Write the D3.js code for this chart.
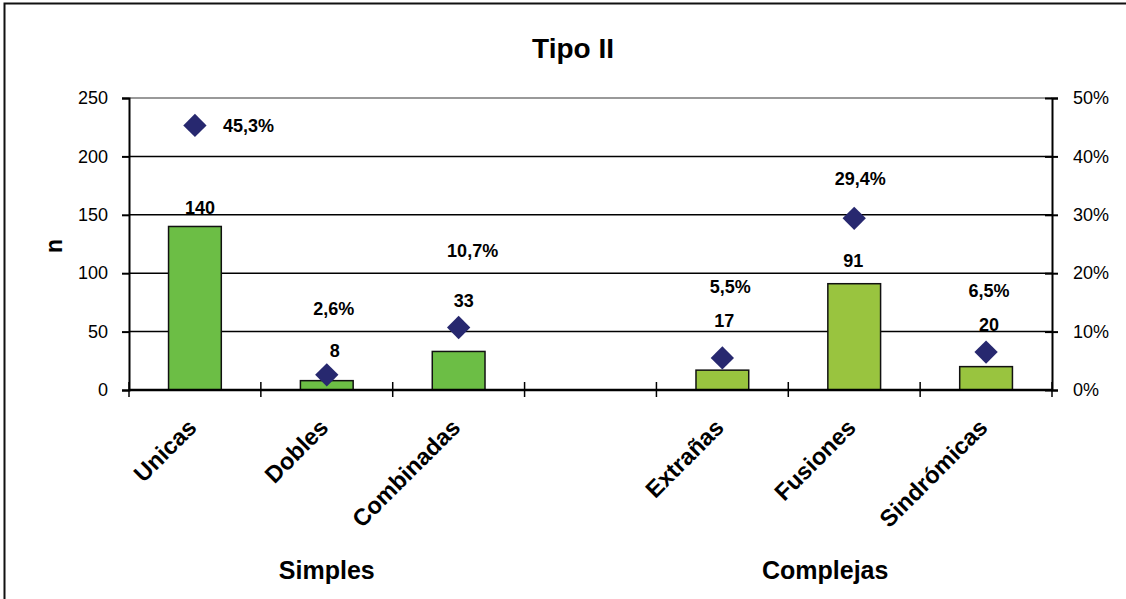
<!DOCTYPE html>
<html><head><meta charset="utf-8">
<script src="https://cdn.jsdelivr.net/npm/d3@7"></script>
<style>body{margin:0;background:#fff}svg{display:block}text{font-family:"Liberation Sans",Arial,sans-serif}</style>
</head><body><svg id="c" width="1126" height="599"></svg>
<script>
const categories = ["Unicas","Dobles","Combinadas","","Extrañas","Fusiones","Sindrómicas"];
const groups = ["Simples","Simples","Simples","","Complejas","Complejas","Complejas"];
const counts = [140, 8, 33, null, 17, 91, 20];
const percents = [45.3, 2.6, 10.7, null, 5.5, 29.4, 6.5];
const leftTicks = [0, 50, 100, 150, 200, 250];
const rightTicks = [0, 10, 20, 30, 40, 50];
const groupNames = ["Simples","Complejas"];
const title = "Tipo II";

// label placement tweaks (layout only, pixels) as placed in the original
const countLabelShift = [[5,-17],[8,-28],[5,-49],[0,0],[2,-48],[-1,-21],[3,-40]];
const pctLabelShift = [[28,2],[7,-65],[14,-75],[0,0],[8,-70],[6,-38],[3,-60]];
const groupShift = {"Simples":0, "Complejas":-29};

const svg = d3.select("#c");
const L = 129, R = 1052, T = 98, B = 390;
const band = d3.scaleBand().domain(d3.range(categories.length)).range([L, R]);
const barW = band.bandwidth() * 0.4;
const y = d3.scaleLinear().domain([0, 250]).range([B, T]);
const y2 = d3.scaleLinear().domain([0, 50]).range([B, T]);
const cx = i => band(i) + band.bandwidth() / 2;

// outer border
svg.append("rect").attr("x", 4.5).attr("y", 3.5).attr("width", 1140).attr("height", 620)
  .attr("fill", "none").attr("stroke", "#111").attr("stroke-width", 2);

// title
svg.append("text").attr("x", 573).attr("y", 58).attr("text-anchor", "middle")
  .attr("font-size", 28).attr("font-weight", "bold").text(title);

// gridlines
svg.append("g").selectAll("line").data(leftTicks.filter(d => d > 0)).join("line")
  .attr("x1", L).attr("x2", R).attr("y1", d => y(d)).attr("y2", d => y(d))
  .attr("stroke", d => d === 250 ? "#777" : "#000").attr("stroke-width", 1.5);

// left axis
const la = svg.append("g").attr("transform", `translate(${L},0)`)
  .call(d3.axisLeft(y).tickValues(leftTicks).tickSize(7).tickPadding(14));
la.select(".domain").attr("stroke", "#000").attr("stroke-width", 2);
la.selectAll(".tick line").attr("stroke", "#000").attr("stroke-width", 2);
la.selectAll("text").attr("font-size", 18).attr("fill", "#000").attr("font-family", "Liberation Sans, Arial, sans-serif");

// right axis
const ra = svg.append("g").attr("transform", `translate(${R},0)`)
  .call(d3.axisRight(y2).tickValues(rightTicks).tickSize(6).tickPadding(15).tickFormat(d => d + "%"));
ra.select(".domain").attr("stroke", "#000").attr("stroke-width", 2);
ra.selectAll(".tick line").attr("x1", -7).attr("stroke", "#000").attr("stroke-width", 2);
ra.selectAll("text").attr("font-size", 18).attr("fill", "#000").attr("font-family", "Liberation Sans, Arial, sans-serif");

// y title
svg.append("text").attr("transform", "translate(56,246) rotate(-90)").attr("text-anchor", "middle")
  .attr("dominant-baseline", "middle").attr("font-size", 23).attr("font-weight", "bold").text("n");

// bars
const idx = d3.range(categories.length).filter(i => counts[i] != null);
svg.append("g").selectAll("rect").data(idx).join("rect")
  .attr("x", i => cx(i) - barW / 2).attr("width", barW)
  .attr("y", i => y(counts[i])).attr("height", i => B - y(counts[i]))
  .attr("fill", i => groups[i] === "Simples" ? "#6CBE45" : "#99C43F")
  .attr("stroke", "#111").attr("stroke-width", 1.5);

// x axis line with boundary ticks
svg.append("line").attr("x1", L).attr("x2", R).attr("y1", B).attr("y2", B).attr("stroke", "#000").attr("stroke-width", 2.5);
const bounds = d3.range(categories.length + 1).map(i => i < categories.length ? band(i) : R);
svg.append("g").selectAll("line").data(bounds).join("line")
  .attr("x1", d => d).attr("x2", d => d).attr("y1", B - 8).attr("y2", B + 7)
  .attr("stroke", "#000").attr("stroke-width", 1.5);

// category labels
svg.append("g").selectAll("text").data(idx).join("text")
  .attr("transform", i => `translate(${cx(i) + 3},${B + 39}) rotate(-45)`)
  .attr("text-anchor", "end").attr("font-size", 23.5).attr("font-weight", "bold").text(i => categories[i]);

// group labels
groupNames.forEach(g => {
  const members = d3.range(categories.length).filter(i => groups[i] === g);
  const c = d3.mean(members, cx) + groupShift[g];
  svg.append("text").attr("x", c).attr("y", 579).attr("text-anchor", "middle")
    .attr("font-size", 25).attr("font-weight", "bold").text(g);
});

// count labels
svg.append("g").selectAll("text").data(idx).join("text")
  .attr("x", i => cx(i) + countLabelShift[i][0]).attr("y", i => y(counts[i]) + countLabelShift[i][1])
  .attr("text-anchor", "middle").attr("dominant-baseline", "middle")
  .attr("font-size", 18).attr("font-weight", "bold").text(i => counts[i]);

// diamonds
svg.append("g").selectAll("path").data(idx).join("path")
  .attr("d", d3.symbol(d3.symbolSquare, 272))
  .attr("transform", i => `translate(${cx(i)},${y2(percents[i])}) rotate(45)`)
  .attr("fill", "#27286F");

// percent labels
const fmt = v => v.toFixed(1).replace(".", ",") + "%";
svg.append("g").selectAll("text").data(idx).join("text")
  .attr("x", i => cx(i) + pctLabelShift[i][0]).attr("y", i => y2(percents[i]) + pctLabelShift[i][1])
  .attr("text-anchor", i => i === 0 ? "start" : "middle").attr("dominant-baseline", "middle")
  .attr("font-size", 18).attr("font-weight", "bold").text(i => fmt(percents[i]));
</script></body></html>
